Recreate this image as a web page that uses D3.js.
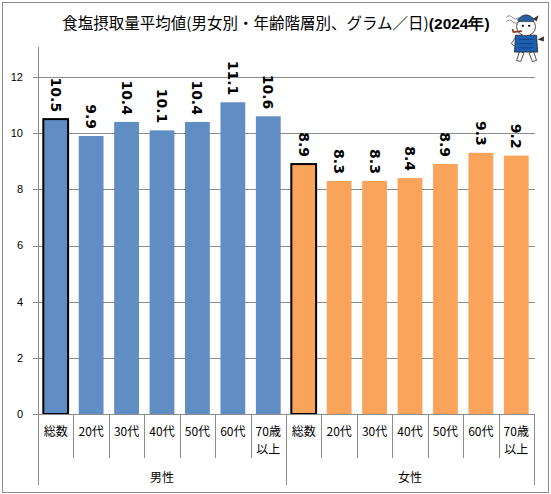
<!DOCTYPE html>
<html><head><meta charset="utf-8">
<script src="https://cdn.jsdelivr.net/npm/d3@7"></script>
<style>body{margin:0;background:#fff}svg{display:block}</style>
</head><body>
<script>
const categories = ["総数","20代","30代","40代","50代","60代","70歳\n以上"];
const groups = ["男性","女性"];
const maleValues = [10.5, 9.9, 10.4, 10.1, 10.4, 11.1, 10.6];
const femaleValues = [8.9, 8.3, 8.3, 8.4, 8.9, 9.3, 9.2];
const yTicks = [0, 2, 4, 6, 8, 10, 12];
const titleMain = "食塩摂取量平均値(男女別・年齢階層別、グラム／日)";
const titleYear = "(2024年)";

(function () {
const W = 551, H = 494;
const colors = {"男性": "#5f8dc4", "女性": "#f9a35b"};
const data = [];
groups.forEach((g, gi) => {
  const vals = gi === 0 ? maleValues : femaleValues;
  categories.forEach((c, ci) => data.push({key: gi + "-" + ci, group: g, cat: c, value: vals[ci], total: ci === 0}));
});

const svg = d3.select("body").append("svg").attr("width", W).attr("height", H);
svg.append("rect").attr("x", 2.5).attr("y", 2.5).attr("width", W - 5).attr("height", H - 4)
  .attr("fill", "#fff").attr("stroke", "#8c8c8c").attr("stroke-width", 1);

const pL = 38, pR = 534, pT = 77, pB = 414;
const x = d3.scaleBand().domain(data.map(d => d.key)).range([pL, pR]).paddingInner(0.3).paddingOuter(0.15);
const y = d3.scaleLinear().domain([0, 12]).range([pB, pT]);

// gridlines
svg.append("g").selectAll("line").data(yTicks.filter(t => t > 0)).join("line")
  .attr("x1", pL - 5).attr("x2", 535).attr("y1", d => Math.round(y(d)) + 0.5).attr("y2", d => Math.round(y(d)) + 0.5)
  .attr("stroke", "#8c8c8c").attr("stroke-width", 1);

// y labels
svg.append("g").selectAll("text").data(yTicks).join("text")
  .attr("x", 23).attr("y", d => y(d)).attr("dy", "0.35em").attr("text-anchor", "end")
  .attr("font-family", "'Liberation Sans', Arial, sans-serif").attr("font-size", 11).attr("fill", "#000")
  .text(d => d);

// bars
svg.append("g").selectAll("rect").data(data).join("rect")
  .attr("x", d => x(d.key)).attr("width", x.bandwidth())
  .attr("y", d => y(d.value)).attr("height", d => y(0) - y(d.value))
  .attr("fill", d => colors[d.group])
  .attr("stroke", d => d.total ? "#000" : "none").attr("stroke-width", 2);

// axes lines
svg.append("line").attr("x1", pL + 0.5).attr("x2", pL + 0.5).attr("y1", pT - 30).attr("y2", 485).attr("stroke", "#8c8c8c");
svg.append("line").attr("x1", pL - 5).attr("x2", pR + 1).attr("y1", pB + 0.5).attr("y2", pB + 0.5).attr("stroke", "#8c8c8c");

// category separators
const step = x.step();
data.forEach((d, i) => {
  const xs = Math.round(x(d.key) + x.bandwidth() + step * 0.15) + 0.5;
  const isGroupEnd = (i % categories.length) === categories.length - 1;
  svg.append("line").attr("x1", xs).attr("x2", xs).attr("y1", pB).attr("y2", isGroupEnd ? 485 : 458).attr("stroke", "#8c8c8c");
});

// category labels
const catG = svg.append("g").attr("font-family", "'Noto Sans CJK JP', sans-serif").attr("font-size", 12).attr("fill", "#000");
data.forEach(d => {
  const lines = d.cat.split("\n");
  const t = catG.append("text").attr("x", x(d.key) + x.bandwidth() / 2).attr("text-anchor", "middle");
  lines.forEach((ln, li) => t.append("tspan").attr("x", x(d.key) + x.bandwidth() / 2).attr("y", 436 + li * 18).text(ln));
});

// group labels
groups.forEach((g, gi) => {
  const keys = data.filter(d => d.group === g).map(d => x(d.key));
  const cx = (d3.min(keys) + d3.max(keys) + x.bandwidth()) / 2;
  svg.append("text").attr("x", cx).attr("y", 482).attr("text-anchor", "middle")
    .attr("font-family", "'Noto Sans CJK JP', sans-serif").attr("font-size", 12).text(g);
});

// value labels
svg.append("g").selectAll("text").data(data).join("text")
  .attr("transform", d => `translate(${x(d.key) + x.bandwidth() / 2},${y(d.value) - 7}) rotate(90)`)
  .attr("text-anchor", "end").attr("dominant-baseline", "central")
  .attr("font-family", "'DejaVu Sans', Verdana, sans-serif").attr("font-weight", "bold").attr("font-size", 14)
  .attr("fill", "#000").text(d => d.value.toFixed(1));

// title
const title = svg.append("text").attr("x", 276).attr("y", 29).attr("text-anchor", "middle")
  .attr("font-family", "'Noto Sans CJK JP', sans-serif").attr("font-size", 15.5).attr("fill", "#000");
title.append("tspan").text(titleMain);
title.append("tspan").attr("font-weight", "bold").attr("font-family", "'Liberation Sans', Arial, sans-serif").text(titleYear);

// mascot (simple drawing)
const m = svg.append("g").attr("transform", "translate(504,9) scale(1.05)");
m.append("path").attr("d", "M2,8 q3,-3 6,0 q3,3 6,0 M2,12 q3,-3 6,0 q3,3 6,0").attr("fill", "none").attr("stroke", "#777").attr("stroke-width", 0.8);
m.append("path").attr("d", "M15,40 L12,49 L16,50 L19,42 Z M24,42 L27,50 L31,49 L28,40 Z").attr("fill", "#fff").attr("stroke", "#333").attr("stroke-width", 0.8);
m.append("path").attr("d", "M11,25 L31,25 L32,41 L10,41 Z").attr("fill", "#1f5fb0").attr("stroke", "#222").attr("stroke-width", 0.8);
m.append("path").attr("d", "M14,29 h14 M14,33 h14 M14,37 h14").attr("stroke", "#0d3d80").attr("stroke-width", 0.7);
m.append("ellipse").attr("cx", 21).attr("cy", 17).attr("rx", 9).attr("ry", 8.5).attr("fill", "#fff").attr("stroke", "#333").attr("stroke-width", 0.8);
m.append("path").attr("d", "M13,10 Q21,1 29,10 L28,12 L14,12 Z").attr("fill", "#2a5fa0").attr("stroke", "#222").attr("stroke-width", 0.6);
m.append("path").attr("d", "M28,9 L33,6 L31,12 Z").attr("fill", "#333");
m.append("circle").attr("cx", 18).attr("cy", 16).attr("r", 1.1).attr("fill", "#000");
m.append("circle").attr("cx", 24).attr("cy", 16).attr("r", 1.1).attr("fill", "#000");
m.append("path").attr("d", "M17,21 L9,22 L8,19").attr("fill", "none").attr("stroke", "#8b3a1a").attr("stroke-width", 1.6);
m.append("path").attr("d", "M32,29 L38,26 L38,31 Z").attr("fill", "#333");
m.append("path").attr("d", "M11,27 L7,33 L10,35").attr("fill", "none").attr("stroke", "#333").attr("stroke-width", 0.8);
})();
</script>
</body></html>
